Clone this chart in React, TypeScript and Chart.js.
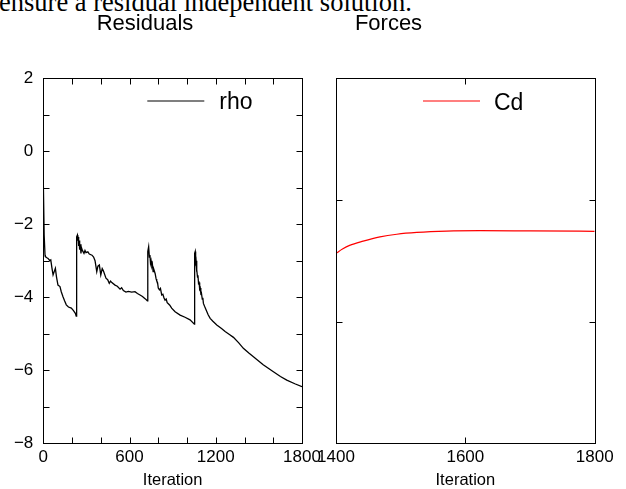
import React, { useEffect, useRef } from 'react';
import { Chart, registerables } from 'chart.js';

Chart.register(...registerables);

const W = 626;
const H = 489;

// Residuals panel (rho)
const rhoIterations = [
  0, 6, 12, 14, 25, 33, 45, 52, 60, 68, 76, 84, 92, 102, 116, 125, 137, 148, 160, 175, 195, 210, 223, 229,
  232, 237, 240, 243, 246, 249, 253, 257, 262, 266, 272, 283, 290, 297, 310, 320, 339, 350, 360, 372, 380, 390, 400, 410, 418, 436, 448, 459, 468, 477, 499, 515, 534, 545, 557, 575, 592, 615, 638, 655, 673, 690, 708, 724,
  727, 733, 738, 742, 746, 750, 755, 759, 764, 770, 778, 785, 789, 795, 800, 808, 815, 824, 832, 840, 847, 855, 862, 870, 880, 893, 917, 952, 986, 1021, 1051,
  1053, 1057, 1060, 1063, 1066, 1069, 1073, 1076, 1080, 1084, 1088, 1092, 1096, 1100, 1106, 1110, 1114, 1122, 1133, 1147, 1161, 1180, 1207, 1240, 1265, 1295, 1323, 1360, 1392, 1430, 1462, 1530, 1601, 1650, 1694, 1750, 1800,
];
const rhoValues = [
  -0.8, -2.3, -2.85, -2.89, -2.92, -2.94, -3.0, -2.98, -3.2, -3.39, -3.3, -3.21, -3.45, -3.67, -3.71, -3.85, -3.99, -4.1, -4.21, -4.27, -4.3, -4.37, -4.44, -4.52,
  -2.35, -2.3, -2.45, -2.35, -2.6, -2.45, -2.7, -2.55, -2.8, -2.65, -2.72, -2.8, -2.72, -2.78, -2.76, -2.82, -2.85, -2.9, -3.0, -3.3, -3.15, -3.12, -3.39, -3.22, -3.28, -3.48, -3.52, -3.62, -3.56, -3.6, -3.67, -3.7, -3.78, -3.74, -3.82, -3.86, -3.84, -3.86, -3.85, -3.9, -3.94, -3.98, -4.04, -4.1,
  -2.75, -2.62, -2.9, -2.85, -3.07, -3.0, -3.15, -3.1, -3.3, -3.25, -3.35, -3.5, -3.55, -3.6, -3.75, -3.8, -3.76, -3.94, -3.92, -4.02, -4.08, -4.05, -4.15, -4.18, -4.22, -4.3, -4.4, -4.49, -4.55, -4.62, -4.74,
  -2.8, -2.75, -3.05, -3.0, -3.3, -3.25, -3.45, -3.4, -3.62, -3.6, -3.78, -3.75, -3.9, -3.88, -4.05, -4.02, -4.17, -4.25, -4.35, -4.48, -4.58, -4.66, -4.76, -4.86, -4.94, -5.02, -5.1, -5.25, -5.4, -5.53, -5.63, -5.85, -6.04, -6.17, -6.27, -6.37, -6.45,
];

// Forces panel (Cd)
const cdIterations = [1400, 1410, 1421, 1442, 1468, 1494, 1525, 1571, 1623, 1700, 1800];
const cdValues = [1.56, 1.595, 1.625, 1.66, 1.695, 1.717, 1.732, 1.743, 1.746, 1.744, 1.741];

const residualXRange = [0, 1800];
const residualYRange = [-8, 2];
const residualXLabelEvery = 600;
const residualYLabelEvery = 2;
const forcesXRange = [1400, 1800];
const forcesYRange = [0, 3];

const SANS = '"Liberation Sans", Arial, Helvetica, sans-serif';
const fmt = (v: number) => (v < 0 ? '\u2212' + Math.abs(v) : String(v));

const gnuplotFrame = {
  id: 'gnuplotFrame',
  afterDraw(chart: any, _args: any, opts: any) {
    const { ctx, chartArea: a, scales } = chart;
    const L = Math.round(a.left) + 0.5;
    const R = Math.round(a.right) + 0.5;
    const T = Math.round(a.top) + 0.5;
    const B = Math.round(a.bottom) + 0.5;
    const len = opts.tickLength ?? 6;
    ctx.save();
    ctx.strokeStyle = '#000';
    ctx.lineWidth = 1;
    ctx.beginPath();
    scales.x.ticks.forEach((t: any) => {
      const p = Math.round(scales.x.getPixelForValue(t.value)) + 0.5;
      if (p <= L + 1 || p >= R - 1) return;
      ctx.moveTo(p, B); ctx.lineTo(p, B - len);
      ctx.moveTo(p, T); ctx.lineTo(p, T + len);
    });
    scales.y.ticks.forEach((t: any) => {
      const p = Math.round(scales.y.getPixelForValue(t.value)) + 0.5;
      if (p <= T + 1 || p >= B - 1) return;
      ctx.moveTo(L, p); ctx.lineTo(L + len, p);
      ctx.moveTo(R, p); ctx.lineTo(R - len, p);
    });
    ctx.stroke();
    ctx.strokeRect(L, T, R - L, B - T);

    // in-plot legend
    const lg = opts.legend;
    if (lg) {
      ctx.strokeStyle = lg.color;
      ctx.lineWidth = 1.2;
      ctx.beginPath();
      ctx.moveTo(a.left + lg.x0, a.top + lg.ly);
      ctx.lineTo(a.left + lg.x1, a.top + lg.ly);
      ctx.stroke();
      ctx.fillStyle = '#000';
      ctx.font = `${lg.size}px ${SANS}`;
      ctx.textAlign = 'left';
      ctx.textBaseline = 'alphabetic';
      ctx.fillText(lg.text, a.left + lg.tx, a.top + lg.ty);
    }
    // panel title
    const tt = opts.title;
    if (tt) {
      ctx.fillStyle = '#000';
      ctx.font = `${tt.size}px ${SANS}`;
      ctx.textAlign = 'center';
      ctx.textBaseline = 'alphabetic';
      ctx.fillText(tt.text, tt.x, tt.y);
    }
    ctx.restore();
  },
};

const tickFont = { family: SANS, size: 17 };
const axisTitleFont = { family: SANS, size: 16.5, lineHeight: 1 };

export default function App() {
  const leftRef = useRef<HTMLCanvasElement>(null);
  const rightRef = useRef<HTMLCanvasElement>(null);

  useEffect(() => {
    const left = new Chart(leftRef.current as HTMLCanvasElement, {
      type: 'line',
      data: {
        datasets: [
          {
            label: 'rho',
            data: rhoIterations.map((x, i) => ({ x, y: rhoValues[i] })),
            borderColor: '#000',
            borderWidth: 1.3,
            pointRadius: 0,
            tension: 0,
            fill: false,
          },
        ],
      },
      options: {
        animation: false,
        responsive: false,
        maintainAspectRatio: false,
        layout: { padding: { left: 0, top: 78, right: 324, bottom: 0 } },
        plugins: {
          legend: { display: false },
          tooltip: { enabled: false },
          gnuplotFrame: {
            tickLength: 6,
            legend: { text: 'rho', color: '#000', x0: 104, x1: 161, ly: 23, tx: 176, ty: 31, size: 23 },
            title: { text: 'Residuals', x: 145, y: 30, size: 22 },
          },
        } as any,
        scales: {
          x: {
            type: 'linear',
            min: residualXRange[0],
            max: residualXRange[1],
            grid: { display: false, drawTicks: false },
            border: { display: false },
            ticks: {
              stepSize: 200,
              autoSkip: false,
              maxRotation: 0,
              padding: 4,
              color: '#000',
              font: tickFont,
              callback: (v: any) => (Number(v) % residualXLabelEvery === 0 ? String(v) : ''),
            },
            title: { display: true, text: 'Iteration', color: '#000', font: axisTitleFont, padding: 0 },
            afterFit: (s: any) => { s.height = 45.7; },
          },
          y: {
            type: 'linear',
            min: residualYRange[0],
            max: residualYRange[1],
            grid: { display: false, drawTicks: false },
            border: { display: false },
            ticks: {
              stepSize: 1,
              autoSkip: false,
              padding: 10,
              color: '#000',
              font: tickFont,
              callback: (v: any) => (Number(v) % residualYLabelEvery === 0 ? fmt(Number(v)) : ''),
            },
            afterFit: (s: any) => { s.width = 43.3; },
          },
        },
      },
      plugins: [gnuplotFrame],
    });

    const right = new Chart(rightRef.current as HTMLCanvasElement, {
      type: 'line',
      data: {
        datasets: [
          {
            label: 'Cd',
            data: cdIterations.map((x, i) => ({ x, y: cdValues[i] })),
            borderColor: '#ff0000',
            borderWidth: 1.2,
            pointRadius: 0,
            cubicInterpolationMode: 'monotone',
            fill: false,
          },
        ],
      },
      options: {
        animation: false,
        responsive: false,
        maintainAspectRatio: false,
        layout: { padding: { left: 326, top: 78, right: 31.3, bottom: 0 } },
        plugins: {
          legend: { display: false },
          tooltip: { enabled: false },
          gnuplotFrame: {
            tickLength: 6,
            legend: { text: 'Cd', color: '#ff0000', x0: 87, x1: 144, ly: 23, tx: 158, ty: 32, size: 23 },
            title: { text: 'Forces', x: 388.5, y: 30, size: 22 },
          },
        } as any,
        scales: {
          x: {
            type: 'linear',
            min: forcesXRange[0],
            max: forcesXRange[1],
            grid: { display: false, drawTicks: false },
            border: { display: false },
            ticks: {
              stepSize: 200,
              autoSkip: false,
              maxRotation: 0,
              padding: 4,
              color: '#000',
              font: tickFont,
              callback: (v: any) => String(v),
            },
            title: { display: true, text: 'Iteration', color: '#000', font: axisTitleFont, padding: 0 },
            afterFit: (s: any) => { s.height = 45.7; },
          },
          y: {
            type: 'linear',
            min: forcesYRange[0],
            max: forcesYRange[1],
            grid: { display: false, drawTicks: false },
            border: { display: false },
            ticks: { stepSize: 1, autoSkip: false, padding: 0, font: tickFont, callback: () => '' },
            afterFit: (s: any) => { s.width = 10; },
          },
        },
      },
      plugins: [gnuplotFrame],
    });

    return () => {
      left.destroy();
      right.destroy();
    };
  }, []);

  const canvasStyle: React.CSSProperties = { position: 'absolute', left: 0, top: 0, width: W, height: H };

  return (
    <div style={{ position: 'fixed', left: 0, top: 0, width: W, height: H, overflow: 'hidden', background: '#fff' }}>
      <div
        style={{
          position: 'absolute',
          left: -1,
          top: -11.5,
          fontFamily: '"Liberation Serif", "Times New Roman", serif',
          fontSize: 26.5,
          lineHeight: '26.5px',
          whiteSpace: 'nowrap',
          color: '#000',
        }}
      >
        ensure a residual independent solution.
      </div>
      <canvas ref={leftRef} width={W} height={H} style={canvasStyle} />
      <canvas ref={rightRef} width={W} height={H} style={canvasStyle} />
    </div>
  );
}
